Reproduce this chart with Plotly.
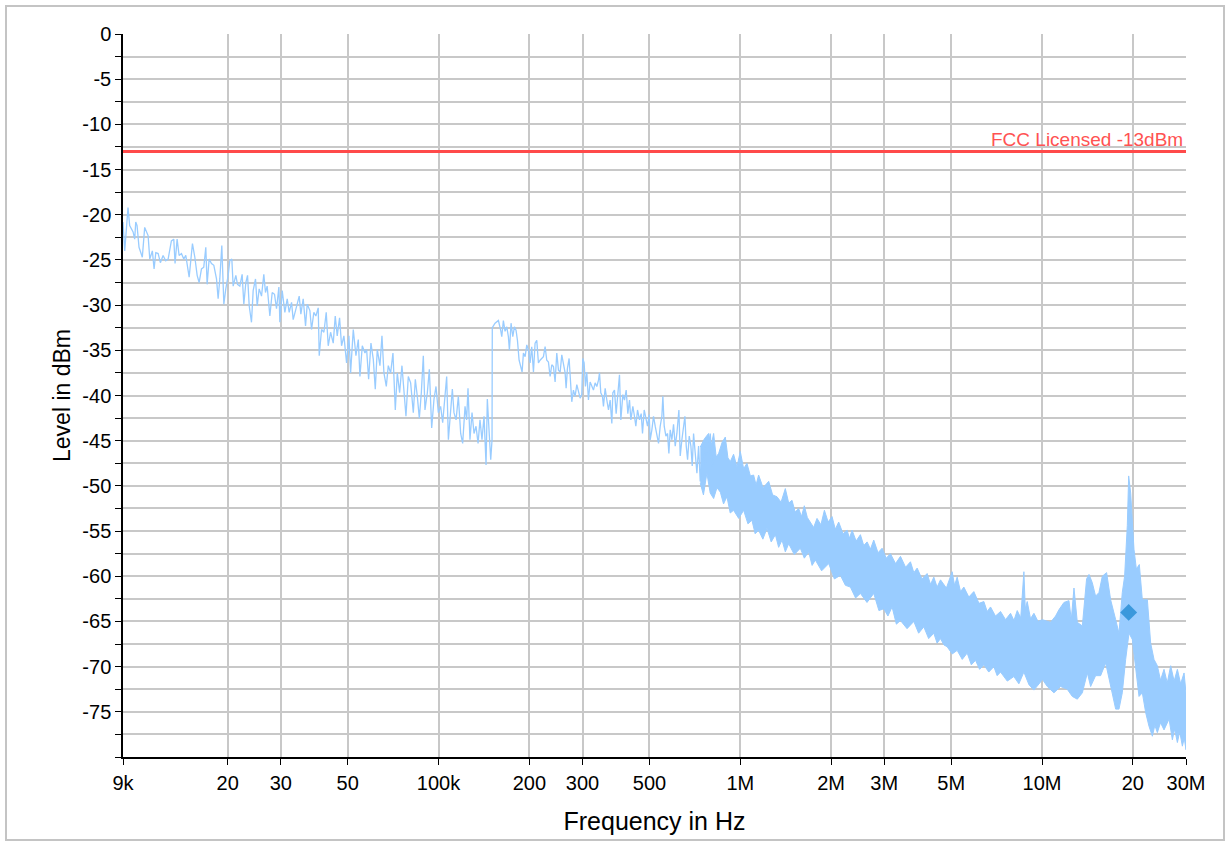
import math
import plotly.graph_objects as go

# ---------------- data ----------------
# Sweep trace 9 kHz .. ~0.8 MHz (frequency in kHz, level in dBm)
sweep_khz = [
    9.0, 9.12, 9.35, 9.47, 9.72, 9.84, 9.92, 10.02, 10.17, 10.43, 10.62, 10.90, 11.04, 11.26, 11.41,
    11.56, 11.77, 11.97, 12.22, 12.47, 12.70, 13.02, 13.26, 13.39, 13.60, 13.81, 14.06, 14.31, 14.53,
    14.68, 14.91, 15.29, 15.57, 15.85, 16.09, 16.38, 16.67, 16.93, 17.10, 17.37, 17.68, 18.00, 18.37,
    18.60, 18.84, 19.13, 19.43, 19.72, 20.08, 20.33, 20.65, 20.86, 21.29, 21.56, 21.95, 22.34, 22.63,
    22.98, 23.28, 23.58, 23.99, 24.30, 24.74, 25.06, 25.44, 25.90, 26.36, 26.70, 27.04, 27.60, 28.10,
    28.60, 29.04, 29.57, 29.79, 30.33, 30.95, 31.51, 31.99, 32.57, 32.98, 33.57, 34.09, 34.53, 34.97,
    35.60, 36.24, 36.71, 37.46, 37.94, 38.62, 39.22, 39.92, 40.23, 40.95, 41.69, 42.44, 43.09, 43.87,
    44.77, 45.46, 46.15, 46.99, 47.71, 48.57, 49.57, 50.46, 51.11, 52.17, 53.24, 54.20, 54.89, 55.88,
    57.03, 57.76, 58.65, 59.70, 60.78, 61.70, 62.65, 63.94, 64.93, 65.92, 67.12, 68.14, 69.37, 70.62,
    71.89, 72.99, 74.30, 75.64, 76.81, 77.98, 79.39, 80.82, 82.48, 83.75, 85.04, 86.35, 87.69, 89.03,
    90.16, 91.80, 93.21, 94.89, 96.58, 98.08, 99.84, 101.6, 103.2, 105.0, 106.4, 107.8, 109.7, 111.1,
    112.5, 114.3, 116.3, 118.4, 120.2, 122.4, 123.9, 125.2, 127.1, 129.1, 131.1, 133.1, 135.2, 137.2,
    139.3, 141.5, 143.7, 145.1, 147.4, 148.9, 150.4, 150.7,
    153.9, 157.9, 160.7, 162.0, 164.0, 166.1, 168.3, 170.4, 171.7, 173.9, 176.2, 178.4, 180.7, 182.6,
    184.9, 187.3, 189.2, 191.1, 193.6, 196.1, 198.6, 201.1, 203.6, 206.3, 208.9, 211.6, 214.3, 217.0,
    219.8, 222.6, 225.5, 228.4, 231.3, 234.3, 237.3, 240.3, 243.4, 246.5, 249.7, 252.9, 256.1, 259.4,
    262.7, 264.7, 267.4, 270.8, 272.9, 276.4, 279.9, 283.5, 287.2, 290.8, 294.6, 298.3, 300.6, 303.7,
    306.8, 309.9, 313.9, 317.9, 322.0, 326.1, 330.3, 334.6, 338.9, 341.5, 344.9, 349.4, 352.0, 356.6,
    361.1, 365.8, 370.4, 375.2, 378.1, 382.9, 387.8, 392.8, 397.8, 401.9, 408.1, 413.3, 418.6, 424.0,
    429.4, 433.8, 440.5, 445.0, 450.7, 456.5, 463.5, 469.4, 474.2, 480.3, 486.5, 492.7, 499.0, 502.8,
    509.3, 515.8, 522.4, 529.1, 535.9, 542.7, 549.7, 553.9, 559.6, 566.8, 574.0, 579.9, 585.8, 593.3,
    600.9, 608.6, 616.4, 625.9, 632.3, 640.4, 648.6, 655.3, 662.0, 668.8, 677.3, 686.0, 693.0, 700.1,
    709.1, 718.2, 727.4, 736.7, 746.1, 755.7, 765.4, 775.2, 785.1, 795.2, 805.4, 815.7,
]
sweep_dbm = [
    -20.8, -24.0, -19.2, -21.2, -21.9, -22.7, -20.8, -21.2, -23.6, -24.7, -21.4, -22.3, -24.9, -24.0, -26.0,
    -24.2, -24.3, -25.3, -24.5, -25.1, -24.9, -22.9, -22.7, -25.4, -22.7, -24.5, -24.3, -24.9, -24.5,
    -25.6, -26.9, -23.2, -24.7, -26.7, -27.5, -26.0, -25.8, -23.6, -27.7, -24.9, -25.4, -25.6, -27.1,
    -29.3, -27.1, -23.4, -29.9, -28.2, -26.7, -25.1, -24.9, -27.9, -26.7, -27.7, -27.9, -26.6, -29.9,
    -27.5, -26.7, -30.1, -31.9, -28.4, -27.1, -30.1, -28.2, -29.0, -26.6, -28.6, -27.9, -31.2, -28.6,
    -28.8, -30.4, -28.0, -31.9, -28.4, -30.8, -29.3, -30.8, -29.7, -31.6, -30.6, -29.7, -29.0, -31.0,
    -29.3, -32.3, -29.9, -30.6, -32.7, -30.8, -31.2, -30.3, -35.6, -32.7, -33.0, -30.8, -34.5, -33.0,
    -34.2, -31.2, -33.4, -31.4, -34.5, -33.4, -36.4, -33.4, -37.5, -32.7, -35.6, -33.8, -37.9, -34.5,
    -35.3, -34.9, -38.2, -34.2, -36.0, -39.3, -34.9, -36.7, -33.4, -37.5, -39.0, -36.7, -37.5, -35.3,
    -41.6, -37.5, -39.7, -36.7, -39.3, -42.3, -37.9, -38.6, -41.9, -38.2, -40.1, -42.5, -39.7, -35.6,
    -41.6, -39.7, -37.1, -43.6, -40.4, -39.0, -41.9, -41.2, -43.0, -39.7, -37.9, -44.9, -41.6, -39.3,
    -41.9, -42.7, -40.1, -44.2, -45.3, -41.2, -42.7, -39.2, -44.9, -41.9, -44.2, -43.4, -45.3, -42.7,
    -44.9, -42.3, -47.7, -40.4, -44.5, -47.1, -44.9, -32.5,
    -32.0, -31.7, -32.8, -33.5, -31.7, -32.9, -32.4, -33.5, -35.0, -32.0, -33.5, -32.4, -32.8, -33.9,
    -36.1, -36.8, -37.4, -35.3, -35.7, -34.4, -35.0, -36.4, -34.6, -37.4, -34.2, -33.9, -36.4, -36.1,
    -35.9, -35.7, -34.6, -36.1, -36.3, -37.9, -36.6, -36.8, -38.5, -35.3, -37.2, -37.4, -35.5, -36.8,
    -37.5, -39.2, -37.0, -35.9, -38.3, -40.7, -39.4, -40.1, -38.8, -39.7, -40.3, -39.9, -35.9, -36.4,
    -39.0, -37.4, -40.5, -38.5, -39.0, -39.4, -38.6, -39.0, -38.3, -37.5, -39.7, -40.1, -41.2, -39.2,
    -40.5, -41.6, -40.5, -43.1, -39.7, -39.4, -42.0, -40.1, -37.7, -42.7, -39.9, -40.5, -39.4, -42.0,
    -40.5, -42.7, -41.2, -42.1, -43.4, -41.6, -42.7, -42.0, -44.2, -41.6, -42.7, -43.4, -42.1, -44.9,
    -43.8, -42.3, -43.4, -44.2, -45.3, -43.4, -42.3, -40.1, -43.4, -44.5, -44.2, -46.4, -43.8, -44.9,
    -43.2, -45.6, -44.2, -41.6, -46.7, -44.9, -43.4, -42.3, -45.6, -47.1, -44.5, -45.6, -47.8, -44.2,
    -46.4, -48.6, -45.6, -49.5, -46.7, -45.6, -47.8, -45.3, -46.4, -44.2, -47.8, -47.1,
]

# Dense part of the sweep (0.74 MHz .. 30 MHz): upper and lower edge of the trace
band_upper_khz = [
    736.8, 760, 785, 800, 816, 832, 848, 870, 892, 910, 927, 950, 975, 1000, 1026, 1052, 1080, 1107,
    1128, 1150, 1190, 1242, 1280, 1323, 1365, 1410, 1447, 1484, 1520, 1561, 1595, 1630, 1668, 1707,
    1750, 1796, 1850, 1900, 1955, 2014, 2065, 2119, 2190, 2259, 2300, 2347, 2420, 2501, 2565, 2632,
    2700, 2769, 2860, 2951, 3045, 3145, 3270, 3395, 3530, 3664, 3760, 3856, 4000, 4161, 4270, 4379,
    4490, 4608, 4820, 5037, 5130, 5233, 5370, 5507, 5720, 5943, 6180, 6415, 6580, 6750, 7010, 7286,
    7570, 7864, 8070, 8275, 8500, 8708, 8800, 8932, 9160, 9400, 9700,
    10020, 10670, 11090, 11380, 11820, 12280, 12500, 12760, 13090, 13600, 14050, 14310, 14670, 15050,
    15440, 15840, 16370, 16880, 17540, 17990, 18450, 18780, 19170, 19370, 19670, 19920, 20170, 20540,
    21010, 21500, 22340, 22910, 23500, 24110, 24700, 25370, 26000, 26690, 27400, 28090, 28800, 29560,
    30000,
]
band_upper_dbm = [
    -45.7, -44.8, -44.2, -45.6, -44.2, -46.8, -46.4, -45.2, -44.6, -46.9, -47.3, -46.5, -47.9, -46.2,
    -48.1, -47.5, -48.9, -48.8, -49.9, -48.8, -50.2, -49.5, -51.0, -51.2, -51.8, -50.3, -51.9, -51.6,
    -52.9, -52.5, -53.4, -52.2, -53.5, -54.0, -54.6, -53.6, -54.3, -52.7, -54.0, -53.4, -54.8, -54.0,
    -55.3, -54.9, -55.8, -54.9, -56.1, -55.4, -56.6, -56.2, -57.0, -56.0, -57.4, -56.9, -58.0, -57.5,
    -58.6, -57.8, -59.0, -58.4, -59.6, -59.1, -60.3, -59.7, -60.9, -60.1, -61.2, -60.4, -61.3, -59.5,
    -61.0, -60.1, -61.7, -61.2, -62.3, -61.7, -63.0, -62.8, -63.9, -63.4, -64.4, -63.9, -64.8, -64.1,
    -64.9, -63.8, -64.6, -59.5, -63.6, -62.8, -64.7, -64.1, -65.0,
    -64.8, -65.1, -64.4, -63.7, -62.9, -62.7, -64.8, -61.3, -65.1, -65.5, -60.3, -59.8, -60.7, -62.2,
    -61.8, -60.0, -59.6, -62.6, -64.8, -66.3, -61.8, -60.0, -54.4, -48.9, -50.8, -54.4, -57.0, -59.2,
    -58.7, -62.6, -62.6, -67.4, -69.2, -69.9, -71.5, -70.3, -71.8, -69.9, -71.6, -70.3, -71.9, -70.7,
    -72.9,
]
band_lower_khz = [
    736.8, 755, 775, 795, 816, 837, 859, 880, 903, 926, 950, 988, 1026, 1060, 1093, 1120, 1150, 1188,
    1226, 1266, 1307, 1340, 1375, 1410, 1447, 1510, 1581, 1630, 1685, 1730, 1773, 1860, 1964, 2050,
    2147, 2230, 2317, 2410, 2501, 2630, 2769, 2880, 2989, 3085, 3185, 3290, 3395, 3570, 3759, 3900,
    4057, 4210, 4379, 4490, 4608, 4730, 4848, 5040, 5233, 5440, 5649, 5830, 6019, 6210, 6415, 6660,
    6924, 7100, 7286, 7670, 8067, 8380, 8708, 9050, 9400, 9889,
    10020, 10410, 10950, 11520, 12120, 12600, 13090, 13600, 14130, 14490, 15050, 15640, 16250, 16880,
    17540, 17990, 18450, 18930, 19420, 19920, 20430, 20960, 21500, 22060, 22620, 23210, 23650, 24110,
    24700, 25370, 26360, 27040, 27500, 28090, 28600, 29180, 29600, 30000,
]
band_lower_dbm = [
    -49.7, -51.0, -48.6, -50.8, -51.4, -50.2, -50.7, -52.0, -51.2, -53.0, -52.7, -53.6, -52.7, -54.2,
    -53.8, -55.3, -54.9, -55.9, -54.7, -56.2, -55.4, -56.8, -56.0, -57.3, -56.4, -57.6, -56.9, -58.0,
    -57.3, -58.8, -58.2, -59.4, -58.6, -60.3, -59.9, -61.0, -61.2, -62.4, -61.9, -62.9, -61.9, -63.8,
    -63.6, -64.4, -63.4, -65.3, -64.9, -65.8, -65.0, -66.3, -65.6, -66.9, -66.3, -67.4, -66.9, -67.6,
    -67.8, -68.6, -68.2, -69.2, -68.5, -69.8, -69.3, -70.3, -69.8, -70.6, -70.0, -71.0, -70.6, -71.6,
    -71.1, -71.9, -70.6, -72.0, -72.6, -71.7,
    -71.4, -72.2, -72.9, -72.2, -72.5, -73.3, -73.6, -72.9, -70.7, -72.2, -71.0, -71.0, -69.6, -72.2,
    -74.7, -74.7, -72.9, -69.2, -66.3, -67.0, -69.9, -73.3, -72.9, -75.1, -76.6, -77.7, -76.5, -77.3,
    -76.2, -77.0, -75.8, -78.1, -76.9, -78.4, -77.2, -78.8, -77.9, -79.2,
]

# Limit line and marker
limit_dbm = -13
limit_label = "FCC Licensed -13dBm"
marker_hz = 19.37e6
marker_dbm = -64.0

# Axis ticks
x_tick_hz = [9e3, 2e4, 3e4, 5e4, 1e5, 2e5, 3e5, 5e5, 1e6, 2e6, 3e6, 5e6, 1e7, 2e7, 3e7]
x_tick_text = ["9k", "20", "30", "50", "100k", "200", "300", "500", "1M", "2M", "3M", "5M", "10M", "20", "30M"]
y_tick_vals = [0, -5, -10, -15, -20, -25, -30, -35, -40, -45, -50, -55, -60, -65, -70, -75]
y_tick_text = ["0", "-5", "-10", "-15", "-20", "-25", "-30", "-35", "-40", "-45", "-50", "-55",
               "-60", "-65", "-70", "-75"]
y_range = [-80, 0]

# ---------------- figure ----------------
TRACE = "#99ccff"
GRID = "#c8c8c8"
FONT = "Liberation Sans, Arial, sans-serif"

band_x = [f * 1e3 for f in band_upper_khz] + [f * 1e3 for f in band_lower_khz[::-1]]
band_y = band_upper_dbm + band_lower_dbm[::-1]

fig = go.Figure()
fig.add_trace(go.Scatter(
    x=band_x, y=band_y, mode="lines", fill="toself", fillcolor=TRACE,
    line=dict(color=TRACE, width=1), hoverinfo="skip", showlegend=False,
))
fig.add_trace(go.Scatter(
    x=[f * 1e3 for f in sweep_khz], y=sweep_dbm, mode="lines",
    line=dict(color=TRACE, width=1.3), showlegend=False,
))
fig.add_trace(go.Scatter(
    x=[marker_hz], y=[marker_dbm], mode="markers",
    marker=dict(symbol="diamond", size=13, color="#3b98dc", line=dict(width=0)),
    showlegend=False,
))

# limit line
fig.add_shape(type="line", xref="paper", x0=0, x1=1, yref="y", y0=limit_dbm, y1=limit_dbm,
              line=dict(color="#ff4a4a", width=3))
fig.add_annotation(x=1, xref="paper", y=limit_dbm, yref="y", text=limit_label,
                   xanchor="right", yanchor="bottom", showarrow=False, xshift=-1, yshift=-1,
                   font=dict(family=FONT, size=19, color="#ff5252"))

# outer frame
L, R, T, B = 123, 42, 34, 85
W, H = 1228, 842
pw, ph = W - L - R, H - T - B
fig.add_shape(type="rect", xref="paper", yref="paper",
              x0=(6 - L) / pw, x1=(1224 - L) / pw,
              y0=(H - B - 840) / ph, y1=(H - B - 6) / ph,
              line=dict(color="#c4c4c4", width=2), layer="below")

fig.update_layout(
    width=W, height=H,
    margin=dict(l=L, r=R, t=T, b=B, autoexpand=False),
    paper_bgcolor="white", plot_bgcolor="white",
    font=dict(family=FONT, color="black"),
    showlegend=False,
)
fig.update_xaxes(
    type="log", range=[math.log10(9e3), math.log10(3e7)],
    tickmode="array", tickvals=x_tick_hz, ticktext=x_tick_text,
    tickfont=dict(size=20), ticks="outside", ticklen=6, tickcolor="black", tickwidth=1,
    ticklabelstandoff=1,
    showline=True, linecolor="black", linewidth=1.5,
    showgrid=True, gridcolor=GRID, gridwidth=2, zeroline=False,
    title=dict(text="Frequency in Hz", font=dict(size=25), standoff=20),
    automargin=False,
)
fig.update_yaxes(
    range=y_range, tickmode="array", tickvals=y_tick_vals, ticktext=y_tick_text,
    tickfont=dict(size=20), ticks="outside", ticklen=6, tickcolor="black", tickwidth=1,
    minor=dict(tickmode="linear", dtick=2.5, tick0=0, ticks="outside", ticklen=6, tickcolor="black",
               showgrid=True, gridcolor=GRID, gridwidth=2),
    showline=True, linecolor="black", linewidth=1.5,
    showgrid=True, gridcolor=GRID, gridwidth=2, zeroline=False,
    title=dict(text="Level in dBm", font=dict(size=23), standoff=5),
    automargin=False,
)

fig.write_html("out.html", config={"displayModeBar": False},
               post_script="document.body.style.margin='0px';")
